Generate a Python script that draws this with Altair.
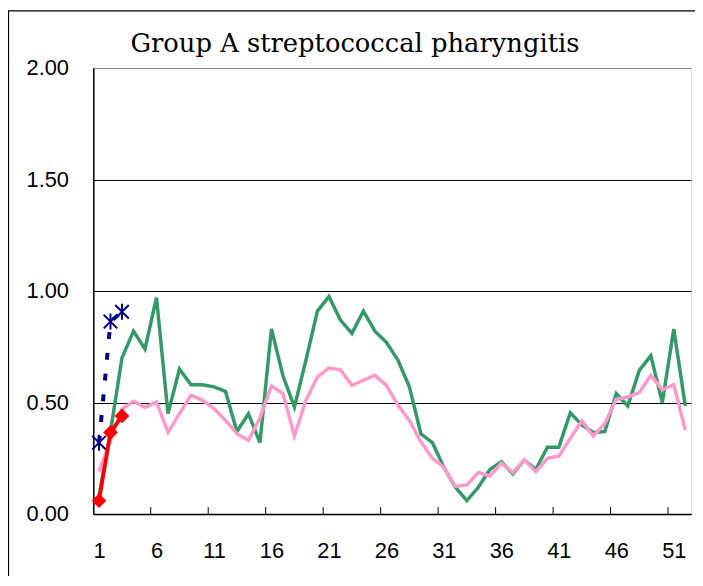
import altair as alt
import pandas as pd

title_text = ["Group A streptococcal pharyngitis"]
weeks = list(range(1, 53))
green_vals = [0.08, 0.37, 0.70, 0.82, 0.74, 0.97, 0.45, 0.65, 0.58, 0.58,
              0.57, 0.55, 0.37, 0.45, 0.32, 0.83, 0.62, 0.48, 0.69, 0.91,
              0.975, 0.87, 0.81, 0.91, 0.82, 0.77, 0.69, 0.57, 0.36, 0.32,
              0.21, 0.12, 0.06, 0.12, 0.20, 0.235, 0.18, 0.243, 0.20, 0.30,
              0.30, 0.454, 0.40, 0.366, 0.37, 0.54, 0.485, 0.644, 0.71, 0.50,
              0.83, 0.485]
pink_vals = [0.19, 0.33, 0.47, 0.506, 0.478, 0.503, 0.366, 0.45, 0.533, 0.51,
             0.473, 0.42, 0.36, 0.33, 0.43, 0.574, 0.54, 0.35, 0.51, 0.615,
             0.655, 0.647, 0.577, 0.60, 0.622, 0.577, 0.488, 0.42, 0.324, 0.25,
             0.21, 0.124, 0.131, 0.186, 0.171, 0.228, 0.186, 0.243, 0.19, 0.25,
             0.26, 0.34, 0.417, 0.35, 0.406, 0.515, 0.525, 0.545, 0.622, 0.558,
             0.58, 0.376]
red_weeks = [1, 2, 3]
red_vals = [0.06, 0.366, 0.44]
blue_weeks = [1, 2, 3]
blue_vals = [0.32, 0.863, 0.907]
x_labels = [1, 6, 11, 16, 21, 26, 31, 36, 41, 46, 51]
x_tick_pos = [5.5, 10.5, 15.5, 20.5, 25.5, 30.5, 35.5, 40.5, 45.5, 50.5]
y_ticks = [0, 0.5, 1.0, 1.5, 2.0]

green_df = pd.DataFrame({"week": weeks, "value": green_vals})
pink_df = pd.DataFrame({"week": weeks, "value": pink_vals})
red_df = pd.DataFrame({"week": red_weeks, "value": red_vals})
blue_df = pd.DataFrame({"week": blue_weeks, "value": blue_vals})
tick_df = pd.DataFrame({"pos": x_tick_pos})
frame_df = pd.DataFrame({"a": [0]})
title_df = pd.DataFrame({"t": title_text})

LABEL_FONT = "Liberation Sans"

x_scale = alt.Scale(domain=[0.5, 52.5], nice=False, zero=False)
y_scale = alt.Scale(domain=[0, 2], nice=False, zero=True)

x_axis = alt.Axis(values=x_labels, title=None, grid=False, ticks=False, tickSize=0,
                  labelFont=LABEL_FONT, labelFontSize=22, labelColor="black",
                  labelPadding=27, labelAngle=0, labelFlush=False, labelOverlap=False,
                  domainColor="black", domainWidth=1.5)
y_axis = alt.Axis(values=y_ticks, format=".2f", title=None, grid=True,
                  gridColor={"condition": {"test": "datum.value >= 2", "value": "#888888"},
                             "value": "#000000"},
                  gridWidth=1, ticks=False, tickSize=0,
                  labelFont=LABEL_FONT, labelFontSize=22, labelColor="black",
                  labelPadding=25, labelFlush=False, labelOverlap=False,
                  domainColor="black", domainWidth=1.5)

X = lambda f: alt.X(f, scale=x_scale, axis=x_axis)
Y = alt.Y("value:Q", scale=y_scale, axis=y_axis)

green = alt.Chart(green_df).mark_line(color="#339966", strokeWidth=3.5).encode(
    x=X("week:Q"), y=Y)
pink = alt.Chart(pink_df).mark_line(color="#FF99CC", strokeWidth=3.5).encode(
    x=X("week:Q"), y=Y)
red_line = alt.Chart(red_df).mark_line(color="#FF0000", strokeWidth=3.8).encode(
    x=X("week:Q"), y=Y)
red_pts = alt.Chart(red_df).mark_point(shape="diamond", filled=True, color="#FF0000",
                                       size=220, opacity=1).encode(x=X("week:Q"), y=Y)
blue_line = alt.Chart(blue_df).mark_line(color="#000080", strokeWidth=4,
                                         strokeDash=[7, 14], strokeCap="butt").encode(
    x=X("week:Q"), y=Y)
star = "M-0.85,-0.85L0.85,0.85M-0.85,0.85L0.85,-0.85M0,-1L0,1"
blue_pts = alt.Chart(blue_df).mark_point(shape=star, filled=False, color="#000080",
                                         size=260, strokeWidth=2, opacity=1).encode(
    x=X("week:Q"), y=Y)
ticks = alt.Chart(tick_df).mark_rule(color="black", strokeWidth=1).encode(
    x=X("pos:Q"), y=alt.value(443), y2=alt.value(450))
frame = alt.Chart(frame_df).mark_rect(fillOpacity=0, stroke="black", strokeWidth=1.2,
                                      clip=False).encode(
    x=alt.value(-85.5), x2=alt.value(700), y=alt.value(-57.5), y2=alt.value(600))
title = alt.Chart(title_df).mark_text(font="DejaVu Serif", fontSize=26, color="black",
                                      align="center", baseline="alphabetic",
                                      clip=False).encode(
    text="t:N", x=alt.value(264), y=alt.value(-16))

chart = alt.layer(green, pink, red_line, red_pts, blue_line, blue_pts, ticks, frame,
                  title).properties(
    width=603, height=450,
    autosize=alt.AutoSizeParams(type="none"),
    padding={"left": 86, "top": 58, "right": 4, "bottom": 60},
).configure_view(stroke="#888888", strokeWidth=1.5).configure(background="white")

chart.save("out.html", embed_options={"renderer": "svg", "actions": False})
